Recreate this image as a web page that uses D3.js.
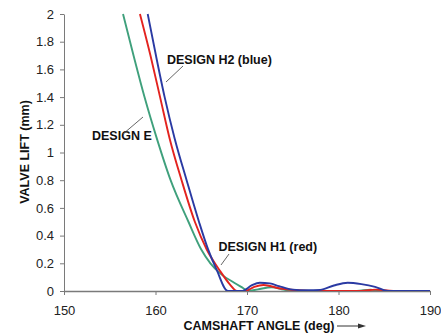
<!DOCTYPE html>
<html>
<head>
<meta charset="utf-8">
<script src="https://cdn.jsdelivr.net/npm/d3@7"></script>
<style>
  body { margin: 0; background: #fff; }
  svg { display: block; font-family: "Liberation Sans", Arial, sans-serif; }
  .axis text { font-size: 13px; fill: #222; }
  .axis path, .axis line { stroke: #7a7a7a; }
  .title { font-size: 12.5px; font-weight: bold; fill: #111; }
</style>
</head>
<body>
<svg id="chart" width="441" height="335"></svg>
<script>
// tick values
const xTicks = [150, 160, 170, 180, 190];
const yTicks = [0, 0.2, 0.4, 0.6, 0.8, 1, 1.2, 1.4, 1.6, 1.8, 2];

// [camshaft angle, valve lift]
const designE = [
  [156.45, 2.0], [157.6, 1.7], [158.8, 1.4], [160.15, 1.1], [161.65, 0.8],
  [163.6, 0.5], [165.0, 0.3], [166.0, 0.2], [167.2, 0.12], [168.6, 0.06],
  [169.6, 0.02], [170.1, 0], [171.2, 0.012], [172.7, 0.027], [174, 0.01],
  [175, 0], [182, 0], [183.5, 0.01], [184.6, 0], [190, 0]
];
const designH1 = [
  [158.3, 2.0], [159.45, 1.7], [160.5, 1.4], [161.55, 1.1], [162.85, 0.8],
  [164.3, 0.5], [165.6, 0.3], [167.0, 0.15], [168.1, 0.05], [168.9, 0],
  [169.8, 0], [170.8, 0.03], [171.8, 0.043], [173.5, 0.02], [175.5, 0.005],
  [177, 0], [182.5, 0], [184, 0.01], [186, 0], [190, 0]
];
const designH2 = [
  [159.15, 2.0], [160.05, 1.7], [161.0, 1.4], [162.1, 1.1], [163.4, 0.8],
  [164.75, 0.5], [165.75, 0.3], [166.7, 0.15], [167.9, 0], [169.5, 0],
  [170.5, 0.04], [171.4, 0.06], [172.5, 0.055], [173.5, 0.035], [175, 0.01],
  [176.5, 0.005], [178, 0.008], [179.5, 0.04], [181, 0.06], [182.5, 0.05],
  [184, 0.03], [185.4, 0], [190, 0]
];

const series = [
  { name: 'E', values: designE, color: '#3fa07c' },
  { name: 'H1', values: designH1, color: '#e3231f' },
  { name: 'H2', values: designH2, color: '#2a3aa3' }
];

const svg = d3.select('#chart');
const margin = { top: 14, right: 11, bottom: 44, left: 64 };
const width = 441 - margin.left - margin.right;
const height = 335 - margin.top - margin.bottom;

const g = svg.append('g')
  .attr('transform', 'translate(' + margin.left + ',' + margin.top + ')');

const x = d3.scaleLinear().domain([150, 190]).range([0, width]);
const y = d3.scaleLinear().domain([0, 2]).range([height, 0]);

g.append('defs').append('clipPath').attr('id', 'clip')
  .append('rect').attr('x', 0).attr('y', -2).attr('width', width + 2).attr('height', height + 2);

// axes
g.append('g')
  .attr('class', 'axis')
  .call(d3.axisLeft(y).tickValues(yTicks).tickSize(4).tickSizeOuter(0).tickPadding(6)
    .tickFormat(d3.format('~g')));

const xa = g.append('g')
  .attr('class', 'axis')
  .attr('transform', 'translate(0,' + height + ')')
  .call(d3.axisBottom(x).tickValues(xTicks).tickSize(4).tickSizeOuter(0).tickPadding(11));
xa.select('.domain').attr('stroke-width', 1.6);

// curves
const line = d3.line()
  .x(d => x(d[0]))
  .y(d => y(d[1]))
  .curve(d3.curveMonotoneX);

g.append('g').attr('clip-path', 'url(#clip)')
  .selectAll('path')
  .data(series)
  .enter().append('path')
  .attr('fill', 'none')
  .attr('stroke', d => d.color)
  .attr('stroke-width', 1.9)
  .attr('d', d => line(d.values));

// annotations
const notes = [
  { text: 'DESIGN H2 (blue)', tx: 167, ty: 63.5, from: [183, 66], to: [166, 82] },
  { text: 'DESIGN E', tx: 92, ty: 140, from: [123, 134], to: [143, 117] },
  { text: 'DESIGN H1 (red)', tx: 218.5, ty: 250.5, from: [229, 254], to: [221, 265] }
];
notes.forEach(n => {
  svg.append('text').attr('class', 'title')
    .attr('x', n.tx).attr('y', n.ty).text(n.text);
  svg.append('line')
    .attr('x1', n.from[0]).attr('y1', n.from[1])
    .attr('x2', n.to[0]).attr('y2', n.to[1])
    .attr('stroke', '#555').attr('stroke-width', 0.9);
});

// axis titles
svg.append('text').attr('class', 'title')
  .attr('transform', 'translate(29,152) rotate(-90)')
  .attr('text-anchor', 'middle')
  .text('VALVE LIFT (mm)');

svg.append('text').attr('class', 'title')
  .attr('x', 259).attr('y', 329.5)
  .attr('text-anchor', 'middle')
  .text('CAMSHAFT ANGLE (deg)');

// little arrow after the x title
svg.append('line')
  .attr('x1', 337).attr('y1', 326).attr('x2', 361).attr('y2', 326)
  .attr('stroke', '#333').attr('stroke-width', 1);
svg.append('path')
  .attr('d', 'M358,323.5 L366,326 L358,328.5 Z')
  .attr('fill', '#333');
</script>
</body>
</html>
